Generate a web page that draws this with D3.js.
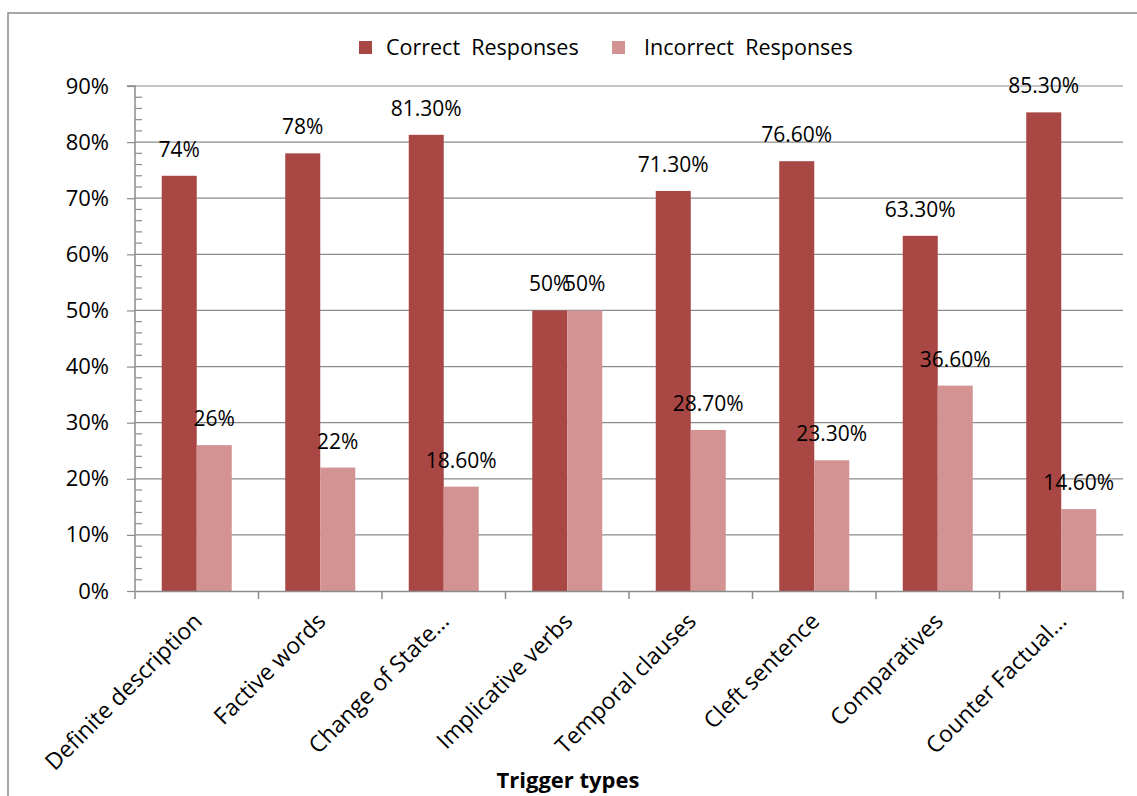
<!DOCTYPE html>
<html><head><meta charset="utf-8">
<script src="https://cdn.jsdelivr.net/npm/d3@7"></script>
<style>
html,body{margin:0;padding:0;background:#fff;}
svg{display:block;}
text{font-family:"Open Sans","Liberation Sans",Arial,sans-serif;fill:#000;}
</style></head>
<body><svg id="chart" width="1137" height="796"></svg>
<script>
const categories = ["Definite description","Factive words","Change of State\u2026","Implicative verbs","Temporal clauses","Cleft sentence","Comparatives","Counter Factual\u2026"];
const seriesNames = ["Correct  Responses","Incorrect  Responses"];
const correctValues = [74, 78, 81.3, 50, 71.3, 76.6, 63.3, 85.3];
const incorrectValues = [26, 22, 18.6, 50, 28.7, 23.3, 36.6, 14.6];
const correctLabels = ["74%","78%","81.30%","50%","71.30%","76.60%","63.30%","85.30%"];
const incorrectLabels = ["26%","22%","18.60%","50%","28.70%","23.30%","36.60%","14.60%"];
const yTickValues = [0,10,20,30,40,50,60,70,80,90];
const yTickLabels = ["0%","10%","20%","30%","40%","50%","60%","70%","80%","90%"];
const xTitle = "Trigger types";

const colors = ["#A94744","#D49393"];
const FONT = "Open Sans, Liberation Sans, Arial, sans-serif";
const svg = d3.select("#chart");
const pLeft = 135, pRight = 1123, pTop = 86, pBottom = 591;

// frame
svg.append("rect").attr("x",8).attr("y",13).attr("width",1140).attr("height",800)
  .attr("fill","none").attr("stroke","#8a8a8a").attr("stroke-width",1.5);

const x = d3.scaleBand().domain(categories).range([pLeft,pRight]).padding(0);
const xs = d3.scaleBand().domain(seriesNames).range([0,x.bandwidth()]).paddingInner(0).paddingOuter(0.764);
const y = d3.scaleLinear().domain([0,90]).range([pBottom,pTop]);

// gridlines
svg.append("g").selectAll("line").data(yTickValues.filter(v=>v>0)).join("line")
  .attr("x1",pLeft).attr("x2",pRight).attr("y1",d=>y(d)).attr("y2",d=>y(d))
  .attr("stroke","#8c8c8c").attr("stroke-width",1.2);

// minor ticks
const minor = d3.range(0,90,2).filter(v=>v%10!==0);
svg.append("g").selectAll("line").data(minor).join("line")
  .attr("x1",pLeft).attr("x2",pLeft+7).attr("y1",d=>y(d)).attr("y2",d=>y(d))
  .attr("stroke","#8c8c8c").attr("stroke-width",1.2);

// y axis
const yAxis = d3.axisLeft(y).tickValues(yTickValues).tickFormat((d,i)=>yTickLabels[i]).tickSize(8).tickPadding(18);
const gy = svg.append("g").attr("transform",`translate(${pLeft},0)`).call(yAxis);
gy.select(".domain").attr("stroke","#8c8c8c").attr("stroke-width",1.5).attr("d",`M-8,${pTop}H0V${pBottom}`);
gy.selectAll(".tick line").attr("stroke","#8c8c8c").attr("stroke-width",1.2);
gy.selectAll(".tick text").attr("font-size",22).attr("font-family",FONT).attr("fill","#000");

// bars
const series = [correctValues, incorrectValues];
const labels = [correctLabels, incorrectLabels];
series.forEach((vals,si)=>{
  svg.append("g").selectAll("rect").data(vals).join("rect")
    .attr("x",(d,i)=>x(categories[i])+xs(seriesNames[si]))
    .attr("width",xs.bandwidth())
    .attr("y",d=>y(d)).attr("height",d=>pBottom-y(d))
    .attr("fill",colors[si]);
});

// x axis
const xAxis = d3.axisBottom(x).tickSize(0).tickFormat("");
const gx = svg.append("g").attr("transform",`translate(0,${pBottom})`).call(xAxis);
gx.select(".domain").attr("stroke","#8c8c8c").attr("stroke-width",1.5);
const bounds = categories.map(c=>x(c)).concat([pRight]);
svg.append("g").selectAll("line").data(bounds).join("line")
  .attr("x1",d=>d).attr("x2",d=>d).attr("y1",pBottom).attr("y2",pBottom+8)
  .attr("stroke","#8c8c8c").attr("stroke-width",1.5);

// category labels
svg.append("g").selectAll("text").data(categories).join("text")
  .attr("transform",d=>`translate(${x(d)+x.bandwidth()/2+1},${pBottom+26}) rotate(-45)`)
  .attr("text-anchor","end").attr("dy","0.35em").attr("font-size",23).text(d=>d);

// data labels
series.forEach((vals,si)=>{
  svg.append("g").selectAll("text").data(vals).join("text")
    .attr("x",(d,i)=>x(categories[i])+xs(seriesNames[si])+xs.bandwidth()/2)
    .attr("y",d=>y(d)-19)
    .attr("text-anchor","middle").attr("font-size",21)
    .text((d,i)=>labels[si][i]);
});

// x title
svg.append("text").attr("x",568).attr("y",788).attr("text-anchor","middle")
  .attr("font-family","Liberation Sans, Arial, sans-serif")
  .attr("font-size",22).attr("font-weight","bold").text(xTitle);

// legend
const legX = [359, 612], legTextX = [386, 644];
seriesNames.forEach((n,i)=>{
  svg.append("rect").attr("x",legX[i]).attr("y",41).attr("width",13).attr("height",13).attr("fill",colors[i]);
  svg.append("text").attr("x",legTextX[i]).attr("y",47.5).attr("dy","0.35em").attr("font-size",21.5)
    .attr("xml:space","preserve").style("white-space","pre").text(n);
});
</script></body></html>
